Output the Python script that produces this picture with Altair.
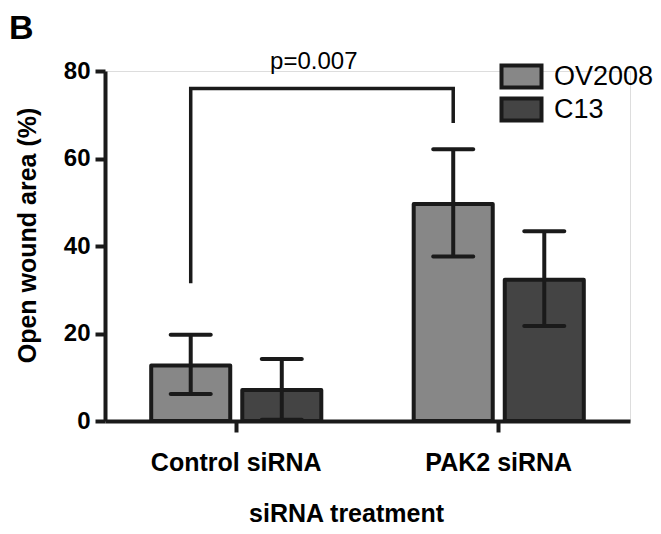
import altair as alt
import pandas as pd

groups = ["Control siRNA", "PAK2 siRNA"]
series = ["OV2008", "C13"]
ov2008_mean = [12.7, 49.6]
ov2008_lo = [6.2, 37.6]
ov2008_hi = [19.7, 62.1]
c13_mean = [7.1, 32.3]
c13_lo = [0.3, 21.7]
c13_hi = [14.2, 43.4]
colors = ["#878787", "#444444"]

# significance bracket (Control OV2008 vs PAK2 OV2008)
bracket_group = ["Control siRNA", "Control siRNA", "PAK2 siRNA", "PAK2 siRNA"]
bracket_y = [31.5, 76.0, 76.0, 68.1]
p_label = "p=0.007"
panel_label = "B"

rows = []
for i, g in enumerate(groups):
    rows.append(dict(group=g, series="OV2008", mean=ov2008_mean[i], lo=ov2008_lo[i], hi=ov2008_hi[i]))
    rows.append(dict(group=g, series="C13", mean=c13_mean[i], lo=c13_lo[i], hi=c13_hi[i]))
df = pd.DataFrame(rows)

br = pd.DataFrame(dict(group=bracket_group, series=["OV2008"] * 4, y=bracket_y, order=list(range(4))))
ptxt = pd.DataFrame(dict(group=[groups[0]], series=["C13"], y=[bracket_y[1]], label=[p_label]))
btxt = pd.DataFrame(dict(label=[panel_label]))

INK = "#1a1a1a"
FONT = "Liberation Sans"

xenc = alt.X(
    "group:N",
    sort=groups,
    scale=alt.Scale(paddingInner=0.352, paddingOuter=0.176),
    axis=alt.Axis(
        title="siRNA treatment",
        labelAngle=0,
        labelFontSize=25,
        labelFontWeight="bold",
        labelColor="black",
        labelPadding=18,
        labelFont=FONT,
        domainColor=INK,
        domainWidth=4,
        tickColor=INK,
        tickWidth=4,
        tickSize=11,
        bandPosition=0.5,
        titleFontSize=25,
        titleFontWeight="bold",
        titleFont=FONT,
        titleColor="black",
        titleX=241,
        titleY=100,
        titleAnchor="middle",
        titleAlign="center",
        titleBaseline="alphabetic",
    ),
)
xoff = alt.XOffset("series:N", sort=series, scale=alt.Scale(paddingInner=0.132, paddingOuter=0))

yscale = alt.Scale(domain=[0, 80], nice=False, zero=True)
yaxis = alt.Axis(
    title="Open wound area (%)",
    values=[0, 20, 40, 60, 80],
    grid=False,
    labelFontSize=24,
    labelFontWeight="bold",
    labelColor="black",
    labelPadding=5,
    labelFont=FONT,
    domainColor=INK,
    domainWidth=4,
    tickColor=INK,
    tickWidth=4,
    tickSize=10,
    titleFontSize=25,
    titleFontWeight="bold",
    titleFont=FONT,
    titleColor="black",
    titleAngle=-90,
    titleX=-78,
    titleY=164,
    titleAlign="center",
    titleBaseline="middle",
)

bars = alt.Chart(df).mark_bar(stroke=INK, strokeWidth=4, strokeJoin="round").encode(
    x=xenc,
    xOffset=xoff,
    y=alt.Y("mean:Q", scale=yscale, axis=yaxis),
    color=alt.Color(
        "series:N",
        sort=series,
        scale=alt.Scale(domain=series, range=colors),
        legend=alt.Legend(
            title=None,
            orient="none",
            legendX=403,
            legendY=-8,
            symbolType="M-2.5,-1.375H2.5V1.375H-2.5Z",
            symbolSize=256,
            symbolStrokeColor=INK,
            symbolStrokeWidth=4,
            symbolOpacity=1,
            labelFontSize=27,
            labelFont=FONT,
            labelColor="black",
            labelOffset=19,
            rowPadding=-7,
            padding=0,
        ),
    ),
)

err = alt.Chart(df).mark_rule(color=INK, strokeWidth=4).encode(
    x=alt.X("group:N", sort=groups),
    xOffset=alt.XOffset("series:N", sort=series),
    y="lo:Q",
    y2="hi:Q",
)
cap_hi = alt.Chart(df).mark_tick(color=INK, size=44, thickness=4, orient="horizontal", cornerRadius=2, opacity=1).encode(
    x=alt.X("group:N", sort=groups),
    xOffset=alt.XOffset("series:N", sort=series),
    y="hi:Q",
)
cap_lo = alt.Chart(df).mark_tick(color=INK, size=44, thickness=4, orient="horizontal", cornerRadius=2, opacity=1).encode(
    x=alt.X("group:N", sort=groups),
    xOffset=alt.XOffset("series:N", sort=series),
    y="lo:Q",
)

bracket = alt.Chart(br).mark_line(color=INK, strokeWidth=3.5, strokeJoin="miter").encode(
    x=alt.X("group:N", sort=groups),
    xOffset=alt.XOffset("series:N", sort=series),
    y="y:Q",
    order="order:Q",
)

ptext = alt.Chart(ptxt).mark_text(
    fontSize=24, font=FONT, color="black", baseline="alphabetic", align="center", dx=32, dy=-20
).encode(
    x=alt.X("group:N", sort=groups),
    xOffset=alt.XOffset("series:N", sort=series),
    y="y:Q",
    text="label:N",
)

bmark = alt.Chart(btxt).mark_text(
    fontSize=34, fontWeight="bold", font=FONT, color="black", baseline="alphabetic", align="left"
).encode(
    x=alt.value(-96),
    y=alt.value(-32),
    text="label:N",
)

chart = (
    alt.layer(bars, err, cap_hi, cap_lo, bracket, ptext, bmark)
    .properties(
        width=525,
        height=350,
        autosize=alt.AutoSizeParams(type="none"),
        padding={"left": 97, "top": 63, "right": 23, "bottom": 105},
    )
    .configure_view(stroke=None)
    .configure(background="white", font=FONT)
)

chart.save("out.html", embed_options={"renderer": "svg", "actions": False})
